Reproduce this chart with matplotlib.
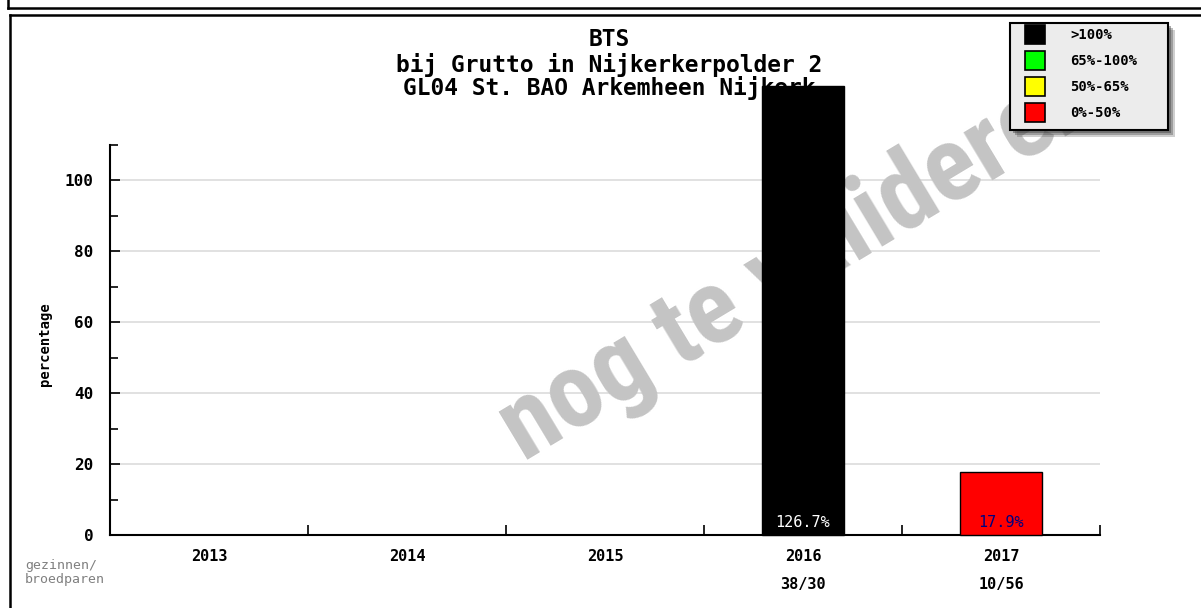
import matplotlib
matplotlib.use("Agg")
import matplotlib.pyplot as plt
from matplotlib.patches import Rectangle
from matplotlib.lines import Line2D
from matplotlib.ticker import MultipleLocator

# data
years = ["2013", "2014", "2015", "2016", "2017"]
values = [0, 0, 0, 126.7, 17.9]
bar_colors = ["red", "red", "red", "black", "red"]
fractions = ["", "", "", "38/30", "10/56"]
legend_labels = [">100%", "65%-100%", "50%-65%", "0%-50%"]
legend_colors = ["black", "#00ff00", "#ffff00", "#ff0000"]
title_lines = ["BTS", "bij Grutto in Nijkerkerpolder 2", "GL04 St. BAO Arkemheen Nijkerk"]

W, H = 1201, 608
MONO = "DejaVu Sans Mono"


def px(x, y):
    # pixel (from top-left) -> figure fraction
    return x / W, 1 - y / H


fig = plt.figure(figsize=(W / 100, H / 100), dpi=100)
ax = fig.add_axes([110 / W, (H - 535) / H, 990 / W, 390 / H])

xs = list(range(len(years)))
ax.set_xlim(-0.5, len(years) - 0.5)
ax.set_ylim(0, 110)

# bars
for x, v, c in zip(xs, values, bar_colors):
    if v > 0:
        ax.bar(x, v, width=0.415, color=c, edgecolor="black", linewidth=1,
               zorder=3, clip_on=False)
        txt_color = "white" if c == "black" else "#000080"
        ax.text(x, 3.4, f"{v:.1f}%", color=txt_color, ha="center", va="center",
                family=MONO, fontsize=11, zorder=4)

# axes styling
for s in ["top", "right"]:
    ax.spines[s].set_visible(False)
ax.spines["left"].set_linewidth(1.5)
ax.spines["bottom"].set_linewidth(1.5)
ax.yaxis.set_major_locator(MultipleLocator(20))
ax.yaxis.set_minor_locator(MultipleLocator(10))
ax.tick_params(axis="y", which="major", direction="in", length=7, width=1.2,
               pad=12, labelsize=11.5)
ax.tick_params(axis="y", which="minor", direction="in", length=6, width=1.2)
for lbl in ax.get_yticklabels():
    lbl.set_family(MONO)
    lbl.set_fontweight("bold")
ax.grid(axis="y", which="major", color="#dcdcdc", linewidth=1.2)
ax.set_axisbelow(True)

ax.set_xticks([x + 0.5 for x in xs])
ax.set_xticklabels([])
ax.tick_params(axis="x", which="major", direction="in", length=7, width=1.2)
ax.set_xticks(xs, minor=True)
ax.set_xticklabels(years, minor=True, family=MONO, fontweight="bold", fontsize=11)
ax.tick_params(axis="x", which="minor", length=0, pad=10)

for x, f in zip(xs, fractions):
    if f:
        ax.text(x, -14, f, ha="center", va="center", family=MONO,
                fontweight="bold", fontsize=11, clip_on=False)

ax.set_ylabel("percentage", family=MONO, fontweight="bold", fontsize=10, labelpad=8)
ax.yaxis.set_label_coords(-58 / 990, 0.49)

# title (behind the bar)
for t, yy in zip(title_lines, [40, 65, 88]):
    fx, fy = px(609, yy)
    ax.text(fx, fy, t, transform=fig.transFigure, ha="center", va="center",
            family=MONO, fontweight="bold", fontsize=16.5, zorder=1, clip_on=False)

# watermark
fx, fy = px(800, 262)
ax.text(fx, fy, "nog te valideren", transform=fig.transFigure, rotation=31,
        rotation_mode="anchor", ha="center", va="center",
        family=["Roboto Condensed", "Liberation Sans Narrow", "Liberation Sans"],
        fontweight="bold", fontsize=76, color="#c4c4c4", zorder=1.5, clip_on=False)

# legend box with shadow
lx0, ly0, lx1, ly1 = 1010, 23, 1168, 130
for k, a in [(7, 0.25), (5, 0.35), (3, 0.45)]:
    x0, y0 = px(lx0 + k, ly1 + k)
    x1, y1 = px(lx1 + k, ly0 + k)
    ax.add_patch(Rectangle((x0, y0), x1 - x0, y1 - y0, transform=fig.transFigure,
                           facecolor="#404040", alpha=a, edgecolor="none",
                           zorder=5, clip_on=False))
x0, y0 = px(lx0, ly1)
x1, y1 = px(lx1, ly0)
ax.add_patch(Rectangle((x0, y0), x1 - x0, y1 - y0, transform=fig.transFigure,
                       facecolor="#ececec", edgecolor="black", linewidth=1.5,
                       zorder=6, clip_on=False))
for i, (lab, col) in enumerate(zip(legend_labels, legend_colors)):
    top = 25 + i * 26
    sx0, sy0 = px(1025, top + 19)
    sx1, sy1 = px(1045, top)
    ax.add_patch(Rectangle((sx0, sy0), sx1 - sx0, sy1 - sy0, transform=fig.transFigure,
                           facecolor=col, edgecolor="black", linewidth=1.2,
                           zorder=7, clip_on=False))
    tx, ty = px(1070, top + 10)
    ax.text(tx, ty, lab, transform=fig.transFigure, ha="left", va="center",
            family=MONO, fontsize=10, fontweight="bold", zorder=7, clip_on=False)

# small note bottom-left
fx, fy = px(25, 573)
fig.text(fx, fy, "gezinnen/\nbroedparen", ha="left", va="center", family=MONO,
         fontsize=9.5, color="#808080", linespacing=1.1)

# page frame lines
for (xa, ya, xb, yb) in [(8, 8, W, 8), (8, 0, 8, 8), (10, 15, W, 15), (10, 15, 10, H)]:
    a = px(xa, ya)
    b = px(xb, yb)
    fig.add_artist(Line2D([a[0], b[0]], [a[1], b[1]], color="black", linewidth=1.8))

fig.savefig("out.png", dpi=100)
